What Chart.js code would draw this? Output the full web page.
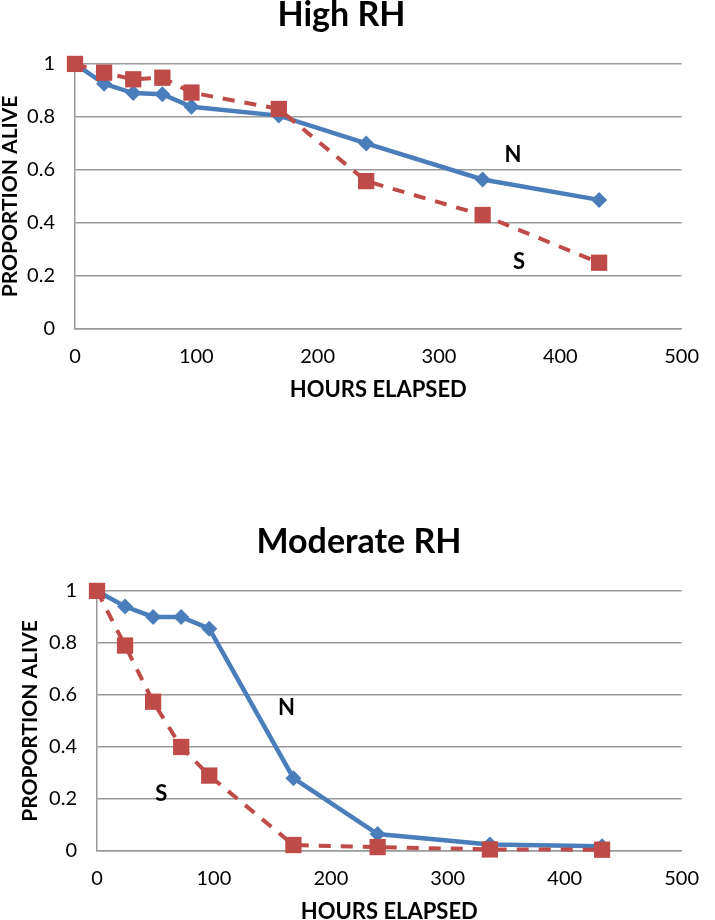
<!DOCTYPE html>
<html>
<head>
<meta charset="utf-8">
<script src="https://cdn.jsdelivr.net/npm/chart.js@4/dist/chart.umd.min.js"></script>
<style>
  html, body { margin: 0; padding: 0; background: #fff; overflow: hidden; }
  .box { position: absolute; left: 0; width: 715px; }
  #boxHigh { top: 0; height: 410px; }
  #boxMod { top: 468px; height: 455px; }
</style>
</head>
<body>
<div class="box" id="boxHigh"><canvas id="chartHigh"></canvas></div>
<div class="box" id="boxMod"><canvas id="chartMod"></canvas></div>
<script>
// horas de observacao (eixo x)
const hours = [0, 24, 48, 72, 96, 168, 240, 336, 432];

// High RH
const highN = [1, 0.925, 0.89, 0.886, 0.838, 0.805, 0.70, 0.564, 0.487];
const highS = [1, 0.967, 0.942, 0.948, 0.892, 0.83, 0.558, 0.43, 0.25];

// Moderate RH
const modN = [1, 0.94, 0.90, 0.90, 0.855, 0.28, 0.065, 0.025, 0.018];
const modS = [1, 0.79, 0.574, 0.40, 0.29, 0.023, 0.015, 0.006, 0.005];

// rotulos N / S dentro do grafico (posicao em horas, proporcao)
const labelText = ['N', 'S'];
const highLabelX = [361, 366];
const highLabelY = [0.655, 0.254];
const modLabelX = [162, 55];
const modLabelY = [0.55, 0.22];

const yTicks = ['0', '0.2', '0.4', '0.6', '0.8', '1'];
const xTicks = ['0', '100', '200', '300', '400', '500'];

const fontFam = 'Lato, "Open Sans", sans-serif';
const blue = '#4A7EBB';
const red = '#BE4B48';
const gridCol = '#9a9a9a';

function pts(ys) {
  return hours.map((h, i) => ({ x: h, y: ys[i] }));
}

// desenha as letras N e S
const textLabels = {
  id: 'textLabels',
  afterDatasetsDraw(chart, args, opts) {
    const ctx = chart.ctx;
    const xs = chart.scales.x, ys = chart.scales.y;
    ctx.save();
    ctx.font = 'bold 22px ' + fontFam;
    ctx.fillStyle = '#000';
    ctx.textAlign = 'center';
    ctx.textBaseline = 'middle';
    opts.text.forEach((t, i) => {
      ctx.fillText(t, xs.getPixelForValue(opts.xs[i]), ys.getPixelForValue(opts.ys[i]));
    });
    ctx.restore();
  }
};

function makeChart(id, title, nVals, sVals, lx, ly, cfg) {
  return new Chart(document.getElementById(id), {
    type: 'line',
    data: {
      datasets: [
        {
          label: 'N',
          data: pts(nVals),
          borderColor: blue,
          backgroundColor: blue,
          borderWidth: 4.5,
          pointStyle: 'rectRot',
          pointRadius: 8,
          pointBorderWidth: 0,
          clip: false,
          order: 2
        },
        {
          label: 'S',
          data: pts(sVals),
          borderColor: red,
          backgroundColor: red,
          borderWidth: 4,
          borderDash: [12, 10],
          pointStyle: 'rect',
          pointRadius: 11.5,
          pointBorderWidth: 0,
          clip: false,
          order: 1
        }
      ]
    },
    options: {
      responsive: true,
      maintainAspectRatio: false,
      animation: false,
      layout: { padding: { left: cfg.padLeft, right: cfg.padRight, top: 0, bottom: cfg.padBottom } },
      plugins: {
        legend: { display: false },
        tooltip: { enabled: false },
        title: {
          display: true,
          text: title,
          color: '#000',
          font: { family: fontFam, size: 34, weight: 'bold', lineHeight: 0.88 },
          padding: { top: cfg.titleTop, bottom: cfg.titleBottom }
        },
        textLabels: { text: labelText, xs: lx, ys: ly }
      },
      scales: {
        x: {
          type: 'linear',
          min: 0,
          max: 500,
          afterFit: (s) => { s.height = 72; },
          grid: { display: false, drawTicks: false },
          border: { display: true, color: gridCol, width: 1.5 },
          ticks: {
            stepSize: 100,
            padding: 16,
            color: '#000',
            font: { family: fontFam, size: 20 },
            callback: (v) => xTicks[Math.round(v / 100)]
          },
          title: {
            display: true,
            text: 'HOURS ELAPSED',
            color: '#000',
            font: { family: fontFam, size: 22, weight: 'bold', lineHeight: 1 },
            padding: 0
          }
        },
        y: {
          min: 0,
          max: 1,
          afterFit: (s) => { s.width = cfg.yWidth; },
          grid: { color: gridCol, lineWidth: 1.5, drawTicks: false },
          border: { display: true, color: gridCol, width: 1.5 },
          ticks: {
            stepSize: 0.2,
            padding: 20,
            color: '#000',
            font: { family: fontFam, size: 20 },
            callback: (v) => yTicks[Math.round(v * 5)]
          },
          title: {
            display: true,
            text: 'PROPORTION ALIVE',
            color: '#000',
            font: { family: fontFam, size: 21, weight: 'bold', lineHeight: 1 },
            padding: 0
          }
        }
      }
    },
    plugins: [textLabels]
  });
}

makeChart('chartHigh', 'High RH', highN, highS, highLabelX, highLabelY,
  { padLeft: 0, padRight: 32, padBottom: 9, yWidth: 75, titleTop: 0, titleBottom: 34 });

makeChart('chartMod', 'Moderate RH', modN, modS, modLabelX, modLabelY,
  { padLeft: 20, padRight: 17, padBottom: 0, yWidth: 77, titleTop: 59, titleBottom: 34 });
</script>
</body>
</html>
